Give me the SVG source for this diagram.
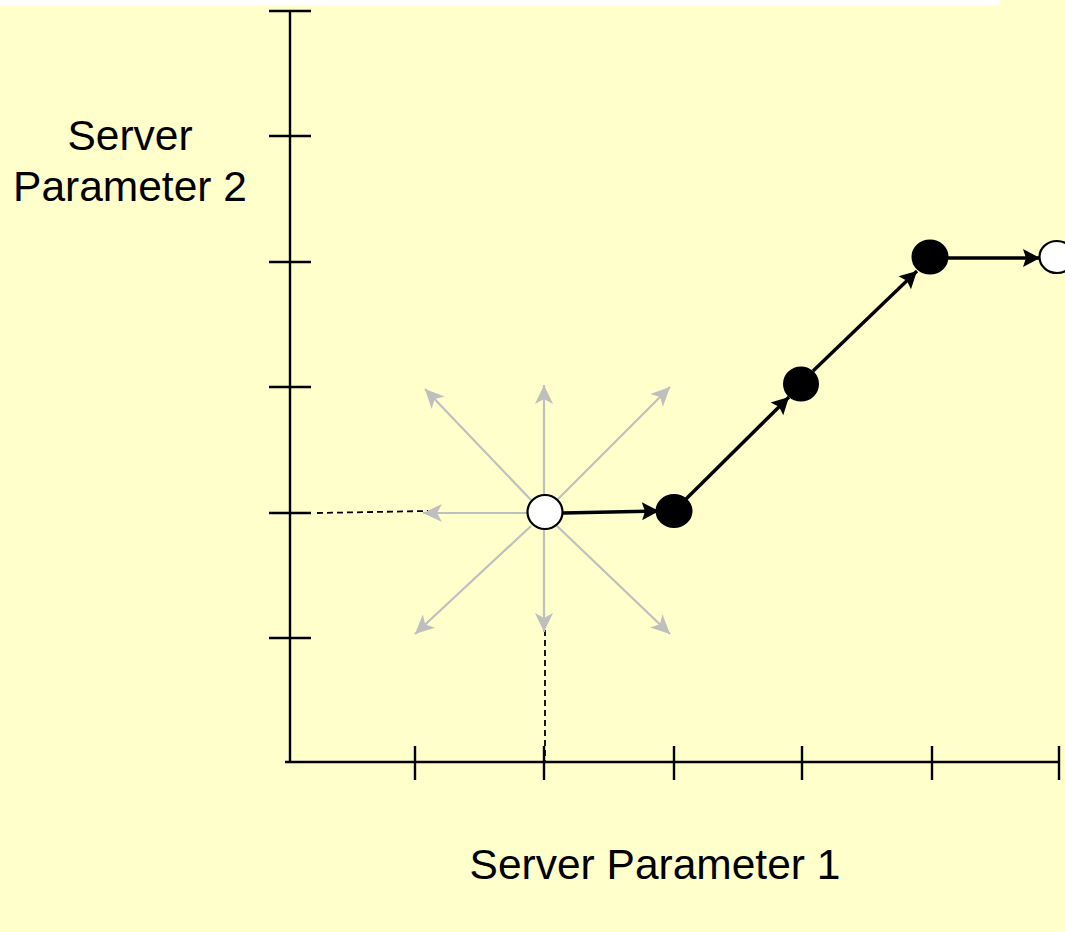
<svg xmlns="http://www.w3.org/2000/svg" width="1065" height="932" viewBox="0 0 1065 932">
  <style>
    .axis { stroke: #000; stroke-width: 2.4; fill: none; }
    .guide { stroke: #000; stroke-width: 1.8; stroke-dasharray: 6 4; fill: none; }
    .probe { stroke: #BFBFBF; stroke-width: 2.2; fill: none; marker-end: url(#grayHead); }
    .step { stroke: #000; stroke-width: 3.4; fill: none; marker-end: url(#blackHead); }
    .open { fill: #fff; stroke: #000; stroke-width: 2.2; }
    .solid { fill: #000; stroke: #000; stroke-width: 2; }
    .label { font-family: "Liberation Sans", Arial, sans-serif; font-size: 42.5px; fill: #000; text-anchor: middle; }
  </style>
  <defs>
    <marker id="grayHead" markerUnits="userSpaceOnUse" markerWidth="24" markerHeight="22" viewBox="-21 -11 23 22" refX="0" refY="0" orient="auto">
      <path d="M0,0 L-19,-9 L-14,0 L-19,9 Z" fill="#BFBFBF"/>
    </marker>
    <marker id="blackHead" markerUnits="userSpaceOnUse" markerWidth="22" markerHeight="22" viewBox="-20 -11 22 22" refX="0" refY="0" orient="auto">
      <path d="M0,0 L-17,-9 L-14,0 L-17,9 Z" fill="#000"/>
    </marker>
  </defs>

  <!-- slide background -->
  <rect x="0" y="0" width="1065" height="932" fill="#FFFFCC"/>
  <rect x="0" y="0" width="1000" height="5" fill="#FFFFFF"/>

  <!-- axes with tick marks -->
  <g id="axes">
    <line class="axis" x1="290" y1="11" x2="290" y2="763"/>
    <line class="axis" x1="285" y1="762" x2="1060" y2="762"/>
    <line class="axis" x1="269" y1="11" x2="311" y2="11"/>
    <line class="axis" x1="269" y1="136" x2="311" y2="136"/>
    <line class="axis" x1="269" y1="262" x2="311" y2="262"/>
    <line class="axis" x1="269" y1="387" x2="311" y2="387"/>
    <line class="axis" x1="269" y1="513" x2="311" y2="513"/>
    <line class="axis" x1="269" y1="638" x2="311" y2="638"/>
    <line class="axis" x1="415" y1="746" x2="415" y2="780"/>
    <line class="axis" x1="544" y1="746" x2="544" y2="780"/>
    <line class="axis" x1="674" y1="746" x2="674" y2="780"/>
    <line class="axis" x1="802" y1="746" x2="802" y2="780"/>
    <line class="axis" x1="932" y1="746" x2="932" y2="780"/>
    <line class="axis" x1="1059" y1="746" x2="1059" y2="780"/>
  </g>

  <!-- axis labels -->
  <g id="label-y">
    <text class="label" x="130" y="150">Server</text>
    <text class="label" x="130" y="201">Parameter 2</text>
  </g>
  <g id="label-x">
    <text class="label" x="655" y="879">Server Parameter 1</text>
  </g>

  <g id="connectors">
    <!-- projections of the start point onto the axes -->
    <line class="guide" x1="317" y1="513" x2="428" y2="511"/>
    <line class="guide" x1="545" y1="630" x2="545" y2="762"/>
    <!-- neighbourhood probes around the start point -->
    <line class="probe" x1="544" y1="495" x2="544" y2="385"/>
    <line class="probe" x1="544" y1="530" x2="544" y2="632"/>
    <line class="probe" x1="527" y1="513" x2="423" y2="513"/>
    <line class="probe" x1="531" y1="500" x2="425" y2="389"/>
    <line class="probe" x1="557" y1="500" x2="670" y2="387"/>
    <line class="probe" x1="531" y1="526" x2="415" y2="634"/>
    <line class="probe" x1="557" y1="526" x2="670" y2="634"/>
    <!-- search path -->
    <line class="step" x1="563" y1="513" x2="659" y2="511"/>
    <line class="step" x1="686" y1="499" x2="789" y2="397"/>
    <line class="step" x1="813" y1="371" x2="917" y2="271"/>
    <line class="step" x1="948" y1="258" x2="1040" y2="258"/>
  </g>

  <!-- points -->
  <g id="start"><ellipse class="open" cx="545" cy="512" rx="17.5" ry="17"/></g>
  <g id="p1"><ellipse class="solid" cx="674" cy="511" rx="17.5" ry="16"/></g>
  <g id="p2"><ellipse class="solid" cx="801" cy="384" rx="17" ry="16.5"/></g>
  <g id="p3"><ellipse class="solid" cx="930" cy="257" rx="17.5" ry="16.5"/></g>
  <g id="end"><ellipse class="open" cx="1057" cy="257" rx="17.5" ry="16"/></g>
</svg>
